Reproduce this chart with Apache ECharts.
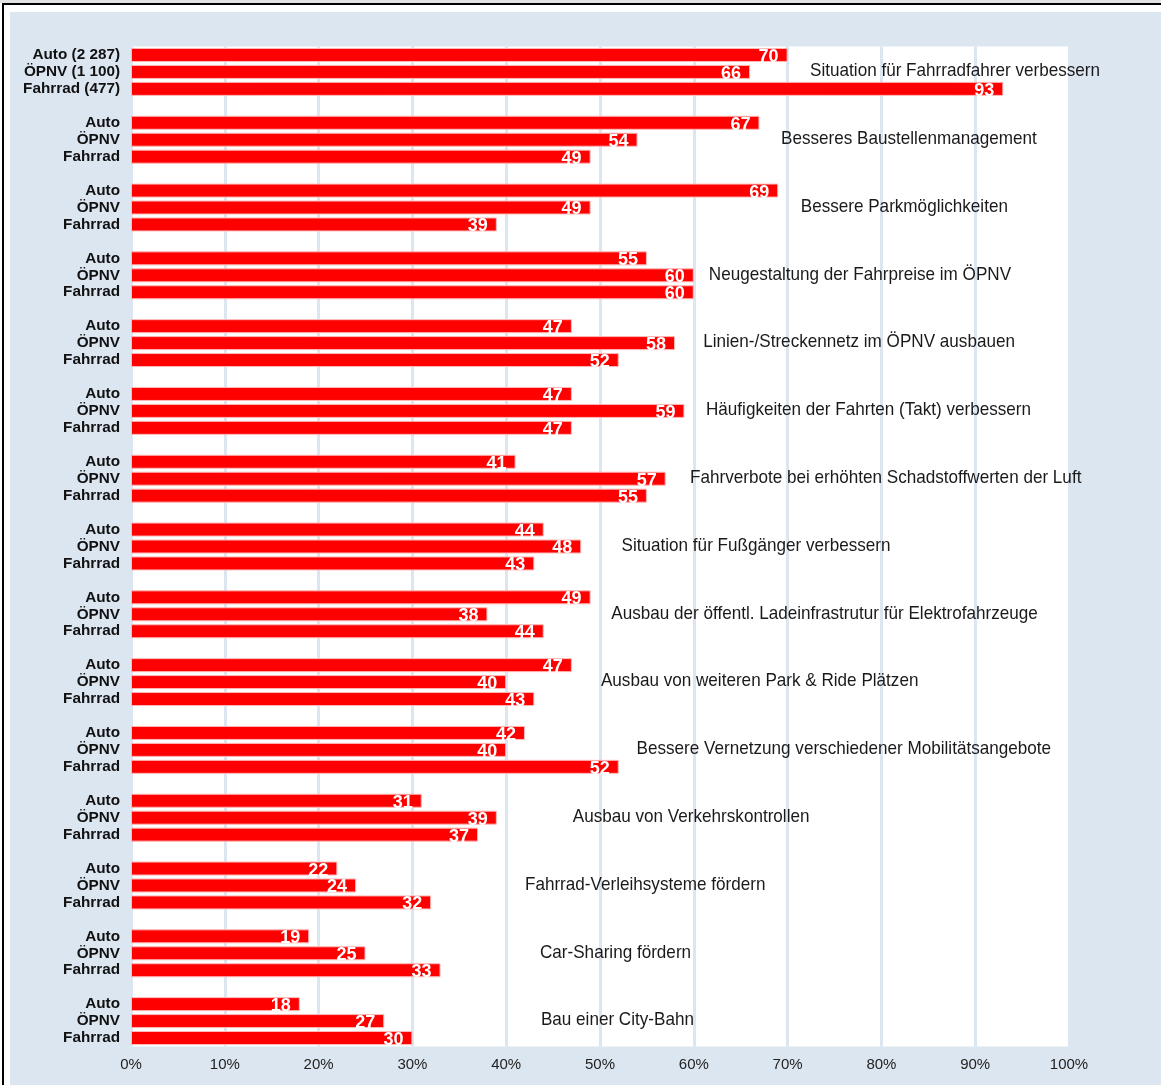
<!DOCTYPE html>
<html>
<head>
<meta charset="utf-8">
<script src="https://cdn.jsdelivr.net/npm/echarts@6/dist/echarts.min.js"></script>
<style>
  html, body { margin: 0; padding: 0; background: #fff; }
  #topstrip { position: absolute; left: 0; top: 0; width: 1161px; height: 3px; background: #e3e3e3; }
  #frame { position: absolute; left: 2px; top: 3px; width: 1170px; height: 1100px; border-left: 2px solid #000; border-top: 2px solid #000; box-sizing: border-box; }
  #blue { position: absolute; left: 10px; top: 12px; width: 1151px; height: 1073px; background: #dce6f1; }
  #chart { position: absolute; left: 0; top: 0; width: 1161px; height: 1085px; }
</style>
</head>
<body>
<div id="topstrip"></div>
<div id="frame"></div>
<div id="blue"></div>
<div id="chart"></div>
<script>
// ---- data ----
const groups = [
  'Situation für Fahrradfahrer verbessern',
  'Besseres Baustellenmanagement',
  'Bessere Parkmöglichkeiten',
  'Neugestaltung der Fahrpreise im ÖPNV',
  'Linien-/Streckennetz im ÖPNV ausbauen',
  'Häufigkeiten der Fahrten (Takt) verbessern',
  'Fahrverbote bei erhöhten Schadstoffwerten der Luft',
  'Situation für Fußgänger verbessern',
  'Ausbau der öffentl. Ladeinfrastrutur für Elektrofahrzeuge',
  'Ausbau von weiteren Park & Ride Plätzen',
  'Bessere Vernetzung verschiedener Mobilitätsangebote',
  'Ausbau von Verkehrskontrollen',
  'Fahrrad-Verleihsysteme fördern',
  'Car-Sharing fördern',
  'Bau einer City-Bahn'
];
const modes = ['Auto', 'ÖPNV', 'Fahrrad'];
const firstGroupModes = ['Auto (2 287)', 'ÖPNV (1 100)', 'Fahrrad (477)'];
const autoValues    = [70, 67, 69, 55, 47, 47, 41, 44, 49, 47, 42, 31, 22, 19, 18];
const oepnvValues   = [66, 54, 49, 60, 58, 59, 57, 48, 38, 40, 40, 39, 24, 25, 27];
const fahrradValues = [93, 49, 39, 60, 52, 47, 55, 43, 44, 43, 52, 37, 32, 33, 30];
const xTickLabels = ['0%', '10%', '20%', '30%', '40%', '50%', '60%', '70%', '80%', '90%', '100%'];

// ---- layout (label start positions, in axis % units) ----
const groupLabelLeft = [72.4, 69.3, 71.4, 61.6, 61.0, 61.3, 59.6, 52.3, 51.2, 50.1, 53.9, 47.1, 42.0, 43.6, 43.7];

// build category rows: 3 bars per group + a gap row between groups
const rows = [];
const seriesRows = [[], [], []];
groups.forEach((g, gi) => {
  for (let m = 0; m < 3; m++) {
    rows.push(gi === 0 ? firstGroupModes[m] : modes[m]);
    const vals = [autoValues, oepnvValues, fahrradValues][m];
    for (let s = 0; s < 3; s++) seriesRows[s].push(s === m ? vals[gi] : '-');
  }
  if (gi < groups.length - 1) {
    rows.push('');
    for (let s = 0; s < 3; s++) seriesRows[s].push('-');
  }
});

const labelData = groups.map((g, gi) => [groupLabelLeft[gi], gi * 4 + 1]);

const chart = echarts.init(document.getElementById('chart'), null, { renderer: 'canvas' });

const barSeries = (name, data) => ({
  name: name,
  type: 'bar',
  data: data,
  barWidth: 14,
  barGap: '-100%',
  itemStyle: { color: '#ff0000', borderColor: '#ffb8b8', borderWidth: 1 },
  label: {
    show: true,
    position: 'insideRight',
    distance: 9,
    offset: [0, 2],
    color: '#ffffff',
    fontFamily: '"Liberation Sans", Arial, sans-serif',
    fontWeight: 'bold',
    fontSize: 18,
    formatter: p => p.value
  },
  silent: true,
  animation: false
});

chart.setOption({
  animation: false,
  backgroundColor: 'transparent',
  grid: {
    left: 131, right: 92, top: 46.5, bottom: 38.5,
    show: true, backgroundColor: '#ffffff', borderWidth: 0
  },
  xAxis: {
    type: 'value',
    min: 0, max: 100, interval: 10,
    axisLine: { show: false },
    axisTick: { show: false },
    splitLine: { show: true, lineStyle: { color: '#dce6f1', width: 3 } },
    axisLabel: {
      margin: 11,
      color: '#222222',
      fontFamily: '"Liberation Sans", Arial, sans-serif',
      fontSize: 15,
      formatter: v => xTickLabels[Math.round(v / 10)]
    }
  },
  yAxis: {
    type: 'category',
    inverse: true,
    data: rows,
    axisLine: { show: false },
    axisTick: { show: false },
    splitLine: { show: false },
    axisLabel: {
      interval: 0,
      margin: 11,
      color: '#111111',
      fontFamily: '"Liberation Sans", Arial, sans-serif',
      fontWeight: 'bold',
      fontSize: 15.3
    }
  },
  series: [
    barSeries('Auto', seriesRows[0]),
    barSeries('ÖPNV', seriesRows[1]),
    barSeries('Fahrrad', seriesRows[2]),
    {
      type: 'custom',
      name: 'Maßnahmen',
      data: labelData,
      silent: true,
      clip: false,
      renderItem: (params, api) => {
        const p = api.coord([api.value(0), api.value(1)]);
        return {
          type: 'text',
          x: p[0],
          y: p[1] - 1,
          scaleX: 0.9,
          style: {
            text: groups[params.dataIndex],
            fill: '#1a1a1a',
            font: '19px "Liberation Sans", Arial, sans-serif',
            align: 'left',
            verticalAlign: 'middle'
          }
        };
      }
    }
  ]
});
</script>
</body>
</html>
